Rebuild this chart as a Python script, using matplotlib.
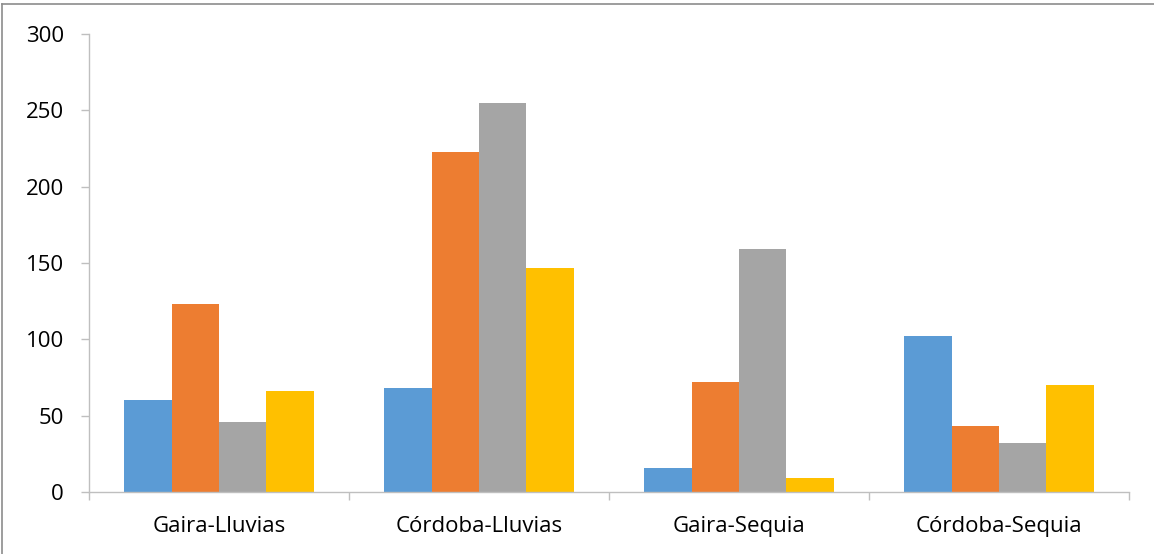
import matplotlib
matplotlib.use("Agg")
import matplotlib.pyplot as plt
from matplotlib.lines import Line2D
import numpy as np

categories = ["Gaira-Lluvias", "Córdoba-Lluvias", "Gaira-Sequia", "Córdoba-Sequia"]
series1 = [60, 68, 16, 102]
series2 = [123, 223, 72, 43]
series3 = [46, 255, 159, 32]
series4 = [66, 147, 9, 70]
yticks = [0, 50, 100, 150, 200, 250, 300]

colors = ["#5B9BD5", "#ED7D31", "#A5A5A5", "#FFC000"]

plt.rcParams['font.family'] = ['Open Sans', 'DejaVu Sans']

W, H = 1154, 554
fig = plt.figure(figsize=(W / 100, H / 100), dpi=100)
ax = fig.add_axes([89 / W, 62 / H, (1129 - 89) / W, (492 - 34) / H])

n = len(categories)
x = np.arange(n)
bw = 1.0 / (4 + 1.5)
allser = [series1, series2, series3, series4]
for i, (s, c) in enumerate(zip(allser, colors)):
    offs = (i - 1.5) * bw
    ax.bar(x + offs, s, width=bw, color=c, edgecolor='none', zorder=2)

ax.set_xlim(-0.5, n - 0.5)
ax.set_ylim(0, 300)
ax.set_yticks(yticks)
ax.set_yticklabels([str(v) for v in yticks], fontsize=16, color='#000000')
ax.set_xticks(x)
ax.set_xticklabels(categories, fontsize=16, color='#000000')
ax.tick_params(axis='x', which='major', length=0, pad=17)
ax.set_xticks(np.arange(-0.5, n, 1.0), minor=True)
ax.tick_params(axis='x', which='minor', length=6, width=1, color='#BFBFBF', direction='out')
ax.tick_params(axis='y', length=6, width=1, color='#BFBFBF', direction='out', pad=12)

for sp in ['top', 'right']:
    ax.spines[sp].set_visible(False)
for sp in ['left', 'bottom']:
    ax.spines[sp].set_color('#BFBFBF')
    ax.spines[sp].set_linewidth(1)

# outer chart frame
fig.add_artist(Line2D([2 / W, 2 / W], [0, 1 - 4 / H], transform=fig.transFigure, color='#8C8C8C', lw=1.2))
fig.add_artist(Line2D([2 / W, 1], [1 - 4 / H, 1 - 4 / H], transform=fig.transFigure, color='#8C8C8C', lw=1.2))

fig.savefig("out.png", dpi=100)
